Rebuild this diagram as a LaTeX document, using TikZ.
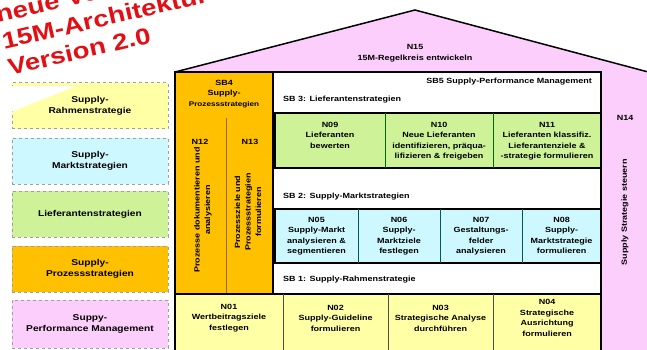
\documentclass[tikz,border=0pt]{standalone}
\usepackage{fontspec}
\setmainfont[FakeStretch=1.2]{Liberation Sans}
\definecolor{housepink}{RGB}{252,206,252}
\definecolor{sborange}{RGB}{255,192,0}
\definecolor{rowgreen}{RGB}{206,242,152}
\definecolor{rowcyan}{RGB}{206,248,255}
\definecolor{rowyellow}{RGB}{255,255,166}
\definecolor{redtitle}{RGB}{226,16,20}

\begin{document}
\begin{tikzpicture}[x=1pt,y=-1pt,
    every node/.style={font=\fontsize{7.5}{10.5}\selectfont\bfseries, align=center, inner sep=0pt},
    frame/.style={draw=black, line width=1.5pt},
    divider/.style={draw=#1, line width=0.6pt},
    legendbox/.style={draw=gray!75, dashed, line width=0.8pt, minimum width=156, minimum height=46,
      font=\fontsize{8.5}{11}\selectfont\bfseries},
    redtext/.style={text=redtitle, rotate=13, align=left, font=\fontsize{23}{27}\selectfont\bfseries}]
    \useasboundingbox (0,0) rectangle (647,349);

    \node[legendbox, fill=rowyellow] (lg1) at (90,105.5) {Supply-\\Rahmenstrategie};
    \node[legendbox, fill=rowcyan] (lg2) at (90,161) {Supply-\\Marktstrategien};
    \node[legendbox, fill=rowgreen] (lg3) at (90,214) {Lieferantenstrategien};
    \node[legendbox, fill=sborange] (lg4) at (90,269) {Supply-\\Prozessstrategien};
    \node[legendbox, fill=housepink, minimum height=48] (lg5) at (90,324) {Suppy-\\Performance Management};
    \fill[white] (6,114) -- (76,86) -- (6,86) -- cycle;

    \node[redtext, anchor=south west] (version) at (10,76) {neue Version\\15M-Architektur\\Version 2.0};

    \fill[housepink] (175,72) -- (415,10) -- (652,73) -- (652,352) -- (601,352) -- (601,72) -- cycle;
    \draw[frame] (175,72) -- (415,10) -- (652,73);
    \draw[frame, fill=sborange] (175,72) rectangle (273,294);
    \draw[frame, fill=white] (273,72) rectangle (601,294);
    \draw[divider=brown!80!black] (226,118) -- (226,294);

    \draw[frame, fill=rowgreen] (275,113) rectangle (601,168);
    \foreach \x in {385,493} \draw[divider=green!40!black] (\x,113) -- (\x,168);
    \draw[frame, fill=rowcyan] (275,209) rectangle (601,263);
    \foreach \x in {358,440,522} \draw[divider=teal!70!black] (\x,209) -- (\x,263);
    \draw[frame, fill=rowyellow] (175,294) rectangle (601,356);
    \foreach \x in {283,388,493} \draw[divider=black!70] (\x,294) -- (\x,352);

    \node (n15) at (415,53) {N15\\15M-Regelkreis entwickeln};
    \node[anchor=east] (sb5) at (592,82) {SB5 Supply-Performance Management};
    \node (sb4) at (224,94) {SB4\\Supply-\\{\fontsize{6.8}{10}\selectfont Prozessstrategien}};
    \node (n12) at (200,142) {N12};
    \node (n13) at (250,142) {N13};
    \node[rotate=90] (n12t) at (203,210) {Prozesse dokumentieren und\\analysieren};
    \node[rotate=90] (n13t) at (248,212) {Prozessziele und\\Prozessstrategien\\formulieren};
    \node (n14) at (625,118) {N14};
    \node[rotate=90] (n14t) at (625,212) {Supply Strategie steuern};

    \node[anchor=west] (sb3) at (283,100) {SB 3: Lieferantenstrategien};
    \node[anchor=north] (n09) at (330,122) {N09\\Lieferanten\\bewerten};
    \node[anchor=north] (n10) at (439,122) {N10\\Neue Lieferanten\\identifizieren, präqua-\\lifizieren \& freigeben};
    \node[anchor=north] (n11) at (547,122) {N11\\Lieferanten klassifiz.\\Lieferantenziele \&\\-strategie formulieren};

    \node[anchor=west] (sb2) at (283,197) {SB 2: Supply-Marktstrategien};
    \node[anchor=north] (n05) at (316.5,217) {N05\\Supply-Markt\\analysieren \&\\segmentieren};
    \node[anchor=north] (n06) at (399,217) {N06\\Supply-\\Marktziele\\festlegen};
    \node[anchor=north] (n07) at (481,217) {N07\\Gestaltungs-\\felder\\analysieren};
    \node[anchor=north] (n08) at (561.5,217) {N08\\Supply-\\Marktstrategie\\formulieren};

    \node[anchor=west] (sb1) at (283,280) {SB 1: Supply-Rahmenstrategie};
    \node (n01) at (229,318) {N01\\Wertbeitragsziele\\festlegen};
    \node (n02) at (335.5,318) {N02\\Supply-Guideline\\formulieren};
    \node (n03) at (440.5,318) {N03\\Strategische Analyse\\durchführen};
    \node (n04) at (547,318) {N04\\Strategische\\Ausrichtung\\formulieren};
\end{tikzpicture}
\end{document}
